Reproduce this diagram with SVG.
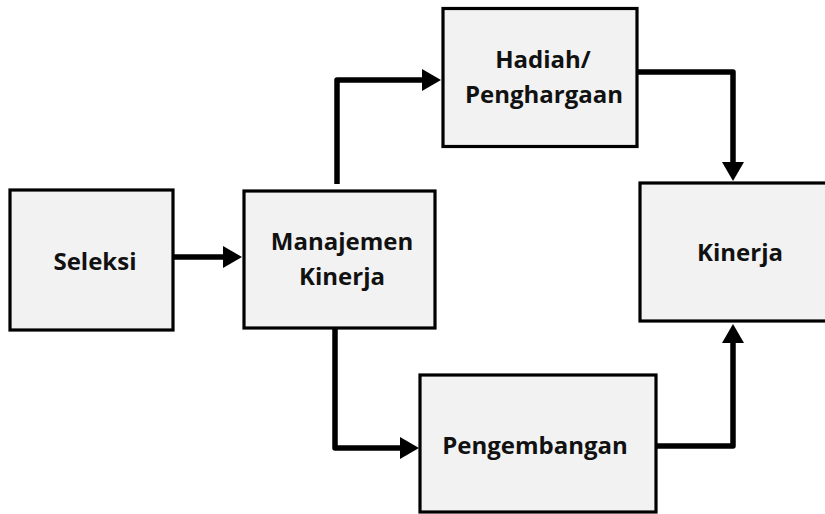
<svg xmlns="http://www.w3.org/2000/svg" width="825" height="514" viewBox="0 0 825 514">
<style>
.box{fill:#f2f2f2;stroke:#000;stroke-width:3.2}
.lbl{font-family:"Open Sans","Noto Sans","Liberation Sans",sans-serif;font-weight:bold;font-size:24px;fill:#111;text-anchor:middle}
.conn{fill:none;stroke:#000;stroke-width:5.5;stroke-linejoin:round;stroke-linecap:butt}
</style>
<defs>
<marker id="ah" markerUnits="userSpaceOnUse" markerWidth="20" markerHeight="22" refX="1" refY="11" orient="auto" viewBox="0 0 20 22">
<path d="M0,0 L19,11 L0,22 Z" fill="#000"/>
</marker>
</defs>
<rect width="825" height="514" fill="#fff"/>
<g id="connectors">
<path class="conn" d="M173,257 H224" marker-end="url(#ah)"/>
<path class="conn" d="M337,184 V80 H423" marker-end="url(#ah)"/>
<path class="conn" d="M637,72 H733 V163" marker-end="url(#ah)"/>
<path class="conn" d="M335,328 V448 H401" marker-end="url(#ah)"/>
<path class="conn" d="M656,446 H733 V342" marker-end="url(#ah)"/>
</g>
<g id="seleksi">
<rect class="box" x="10" y="190" width="163" height="140"/>
<text class="lbl" x="95" y="270">Seleksi</text>
</g>
<g id="manajemen">
<rect class="box" x="244" y="191" width="191" height="137"/>
<text class="lbl" x="342" y="250">Manajemen</text>
<text class="lbl" x="342" y="285">Kinerja</text>
</g>
<g id="hadiah">
<rect class="box" x="443" y="8.5" width="194" height="138"/>
<text class="lbl" x="543" y="68">Hadiah/</text>
<text class="lbl" x="544" y="103">Penghargaan</text>
</g>
<g id="kinerja">
<rect class="box" x="640" y="183" width="190" height="138"/>
<text class="lbl" x="740" y="261">Kinerja</text>
</g>
<g id="pengembangan">
<rect class="box" x="420" y="375" width="236" height="137"/>
<text class="lbl" x="535" y="454">Pengembangan</text>
</g>
</svg>
